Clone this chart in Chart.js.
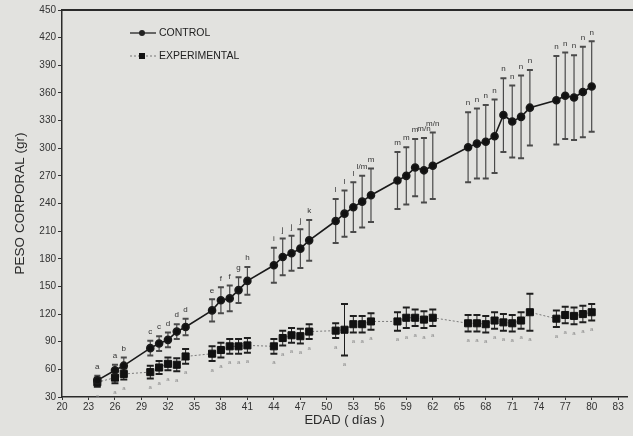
<!DOCTYPE html>
<html>
<head>
<meta charset="utf-8">
<script src="https://cdn.jsdelivr.net/npm/chart.js@4/dist/chart.umd.min.js"></script>
<style>
  html, body { margin: 0; padding: 0; background: #e2e2df; }
  #wrap { width: 633px; height: 436px; }
</style>
</head>
<body>
<div id="wrap"><canvas id="chart" width="633" height="436"></canvas></div>
<script>
// edad (días)
const days = [24, 26, 27, 30, 31, 32, 33, 34, 37, 38, 39, 40, 41, 44, 45, 46, 47, 48,
  51, 52, 53, 54, 55, 58, 59, 60, 61, 62, 66, 67, 68, 69, 70, 71, 72, 73, 76, 77, 78, 79, 80];

// peso corporal (gr), media y desviación
const controlMean = [48, 59, 64, 83, 88, 92, 101, 106, 124, 135, 137, 146, 156, 173, 182, 186, 191, 200,
  221, 229, 236, 242, 249, 265, 270, 279, 276, 281, 301, 305, 307, 313, 336, 329, 334, 344, 352, 357, 355, 361, 367];
const controlSD = [5, 6, 9, 8, 8, 8, 8, 9, 12, 14, 14, 14, 15, 19, 20, 19, 21, 22,
  24, 25, 27, 28, 29, 31, 31, 31, 35, 36, 38, 38, 40, 40, 40, 39, 45, 41, 48, 47, 46, 49, 49];
const controlLetters = ["a", "a", "b", "c", "c", "d", "d", "d", "e", "f", "f", "g", "h", "i", "j", "j", "j", "k",
  "l", "l", "l", "l/m", "m", "m", "m", "m", "m/n", "m/n", "n", "n", "n", "n", "n", "n", "n", "n", "n", "n", "n", "n", "n"];

const expMean = [46, 51, 55, 57, 62, 66, 65, 74, 77, 81, 85, 85, 86, 85, 94, 97, 96, 101,
  102, 103, 109, 109, 112, 112, 116, 116, 114, 116, 110, 110, 109, 113, 111, 110, 113, 122, 115, 119, 118, 120, 122];
const expSD = [5, 6, 6, 7, 7, 7, 7, 8, 8, 8, 8, 8, 8, 8, 8, 8, 8, 8,
  8, 28, 9, 9, 9, 10, 11, 9, 9, 9, 9, 9, 9, 9, 9, 9, 9, 20, 9, 9, 9, 9, 9];
const expLetters = days.map(() => "a");

const xTicks = [20, 23, 26, 29, 32, 35, 38, 41, 44, 47, 50, 53, 56, 59, 62, 65, 68, 71, 74, 77, 80, 83];

const toPoints = (vals) => days.map((d, i) => ({ x: d, y: vals[i] }));

const errorBars = {
  id: "errorBars",
  beforeDatasetsDraw(chart) {
    const { ctx, scales: { x, y } } = chart;
    const groups = [
      { mean: controlMean, sd: controlSD, letters: controlLetters, color: "#4a4a4a", capW: 3, lw: 1.2, above: true },
      { mean: expMean, sd: expSD, letters: expLetters, color: "#1e1e1e", capW: 3.5, lw: 1, above: false }
    ];
    ctx.save();
    groups.forEach(g => {
      days.forEach((d, i) => {
        const px = x.getPixelForValue(d);
        const top = y.getPixelForValue(g.mean[i] + g.sd[i]);
        const bot = y.getPixelForValue(g.mean[i] - g.sd[i]);
        ctx.strokeStyle = g.color;
        ctx.lineWidth = g.lw;
        ctx.beginPath();
        ctx.moveTo(px, top);
        ctx.lineTo(px, bot);
        ctx.stroke();
        ctx.lineWidth = 2;
        ctx.beginPath();
        ctx.moveTo(px - g.capW, top);
        ctx.lineTo(px + g.capW, top);
        ctx.moveTo(px - g.capW, bot);
        ctx.lineTo(px + g.capW, bot);
        ctx.stroke();
        ctx.fillStyle = g.above ? "#333" : "#8a8a8a";
        ctx.font = g.above ? "8px 'Liberation Sans', Arial" : "6px 'Liberation Sans', Arial";
        ctx.textAlign = "center";
        ctx.textBaseline = "middle";
        if (g.above) ctx.fillText(g.letters[i], px, top - 9);
        else ctx.fillText(g.letters[i], px, bot + 9);
      });
    });
    ctx.restore();
  },
  afterDraw(chart) {
    const { ctx, chartArea: a } = chart;
    ctx.save();
    // top frame line
    ctx.strokeStyle = "#2a2a2a";
    ctx.lineWidth = 2;
    ctx.beginPath();
    ctx.moveTo(a.left, a.top);
    ctx.lineTo(chart.width, a.top);
    ctx.stroke();

    // legend
    const lx = a.left + 68, ly = a.top + 23;
    ctx.font = "10.5px 'Liberation Sans', Arial";
    ctx.textBaseline = "middle";
    ctx.textAlign = "left";
    ctx.fillStyle = "#222";
    ctx.strokeStyle = "#222";
    ctx.lineWidth = 1.3;
    ctx.beginPath();
    ctx.moveTo(lx, ly);
    ctx.lineTo(lx + 26, ly);
    ctx.stroke();
    ctx.beginPath();
    ctx.arc(lx + 12, ly, 3, 0, Math.PI * 2);
    ctx.fill();
    ctx.fillText(chart.data.datasets[0].label, lx + 29, ly);

    const ly2 = ly + 23;
    ctx.strokeStyle = "#777";
    ctx.lineWidth = 1;
    ctx.setLineDash([2, 2]);
    ctx.beginPath();
    ctx.moveTo(lx, ly2);
    ctx.lineTo(lx + 26, ly2);
    ctx.stroke();
    ctx.setLineDash([]);
    ctx.fillStyle = "#111";
    ctx.fillRect(lx + 9, ly2 - 3, 6, 6);
    ctx.fillStyle = "#222";
    ctx.fillText(chart.data.datasets[1].label, lx + 29, ly2);
    ctx.restore();
  }
};

new Chart(document.getElementById("chart"), {
  type: "scatter",
  data: {
    datasets: [
      {
        label: "CONTROL",
        data: toPoints(controlMean),
        showLine: true,
        borderColor: "#1a1a1a",
        borderWidth: 1.6,
        backgroundColor: "#111",
        pointRadius: 3.5,
        pointStyle: "circle"
      },
      {
        label: "EXPERIMENTAL",
        data: toPoints(expMean),
        showLine: true,
        borderColor: "#7a7a7a",
        borderWidth: 1,
        borderDash: [2, 2],
        backgroundColor: "#111",
        pointBorderColor: "#111",
        pointRadius: 5,
        pointStyle: "rect"
      }
    ]
  },
  options: {
    responsive: false,
    animation: false,
    layout: { padding: { left: 0, top: 10, right: 1, bottom: 0 } },
    plugins: {
      legend: { display: false },
      tooltip: { enabled: false }
    },
    scales: {
      x: {
        type: "linear",
        min: 20,
        max: 84,
        afterBuildTicks: (s) => { s.ticks = xTicks.map(v => ({ value: v })); },
        afterFit: (s) => { s.height = 39; },
        grid: { drawOnChartArea: false, drawTicks: true, tickLength: 3, color: "#333" },
        border: { color: "#2a2a2a", width: 1.5 },
        ticks: { color: "#333", font: { family: "'Liberation Sans', Arial", size: 10 }, padding: 1, maxRotation: 0 },
        title: {
          display: true,
          text: "EDAD ( días )",
          color: "#2a2a2a",
          font: { family: "'Liberation Sans', Arial", size: 13 },
          padding: { top: 4, bottom: 8 }
        }
      },
      y: {
        min: 30,
        max: 450,
        afterFit: (s) => { s.width = 62; },
        grid: { drawOnChartArea: false, drawTicks: true, tickLength: 4, color: "#333" },
        border: { color: "#2a2a2a", width: 1.5 },
        ticks: { stepSize: 30, color: "#333", font: { family: "'Liberation Sans', Arial", size: 10 }, padding: 2 },
        title: {
          display: true,
          text: "PESO CORPORAL (gr)",
          color: "#2a2a2a",
          font: { family: "'Liberation Sans', Arial", size: 13.5 },
          padding: { top: 12, bottom: 4 }
        }
      }
    }
  },
  plugins: [errorBars]
});
</script>
</body>
</html>
